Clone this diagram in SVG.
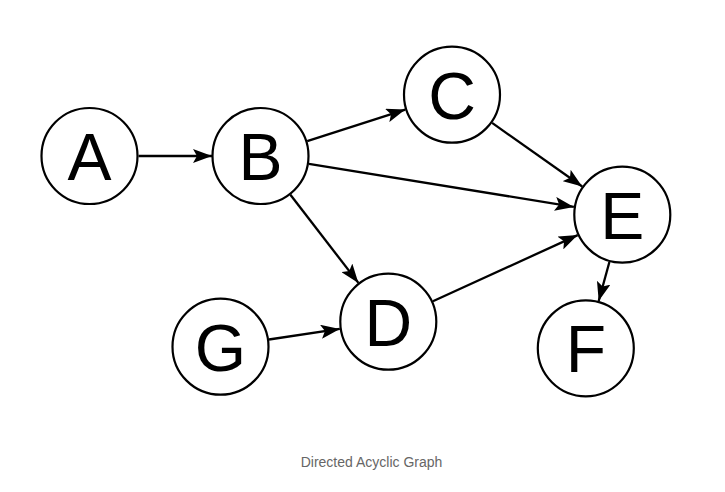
<svg xmlns="http://www.w3.org/2000/svg" width="725" height="492" viewBox="0 0 725 492">
<style>
.node circle{fill:#fff;stroke:#000;stroke-width:2.2}
.node text{font-family:"Liberation Sans",Arial,sans-serif;font-size:66px;fill:#000;text-anchor:middle}
.edges line{stroke:#000;stroke-width:2.3;marker-end:url(#arr)}
.caption{font-family:"Liberation Sans",Arial,sans-serif;font-size:14px;fill:#666;text-anchor:middle}
</style>
<defs>
<marker id="arr" markerUnits="userSpaceOnUse" markerWidth="20" markerHeight="14" refX="19" refY="7" orient="auto" viewBox="0 0 20 14">
<path d="M0,0 L19,7 L0,14 L4,7 z" fill="#000"/>
</marker>
</defs>
<rect width="725" height="492" fill="#fff"/>
<g id="edges" class="edges">
<line x1="138.5" y1="156" x2="212" y2="156"/>
<line x1="307.2" y1="141.1" x2="405.3" y2="109.6"/>
<line x1="308.9" y1="163.9" x2="573.9" y2="206.9"/>
<line x1="290.4" y1="194.8" x2="358.4" y2="282.9"/>
<line x1="492.1" y1="122.9" x2="582.2" y2="186.5"/>
<line x1="432.9" y1="301.3" x2="577.7" y2="235.1"/>
<line x1="269" y1="339.5" x2="339.8" y2="328.9"/>
<line x1="609.4" y1="262" x2="598.7" y2="301"/>
</g>
<g id="A" class="node"><circle cx="89.5" cy="156" r="48"/><text x="89.5" y="180">A</text></g>
<g id="B" class="node"><circle cx="260.5" cy="156" r="48"/><text x="260.5" y="180">B</text></g>
<g id="C" class="node"><circle cx="452" cy="94.7" r="48"/><text x="452" y="118.7">C</text></g>
<g id="E" class="node"><circle cx="622.3" cy="214.7" r="48"/><text x="622.3" y="238.7">E</text></g>
<g id="D" class="node"><circle cx="388.3" cy="321.7" r="48"/><text x="388.3" y="345.7">D</text></g>
<g id="G" class="node"><circle cx="220.5" cy="346.7" r="48"/><text x="220.5" y="370.7">G</text></g>
<g id="F" class="node"><circle cx="585.8" cy="348.3" r="48"/><text x="585.8" y="372.3">F</text></g>
<text class="caption" x="371.5" y="467">Directed Acyclic Graph</text>
</svg>
